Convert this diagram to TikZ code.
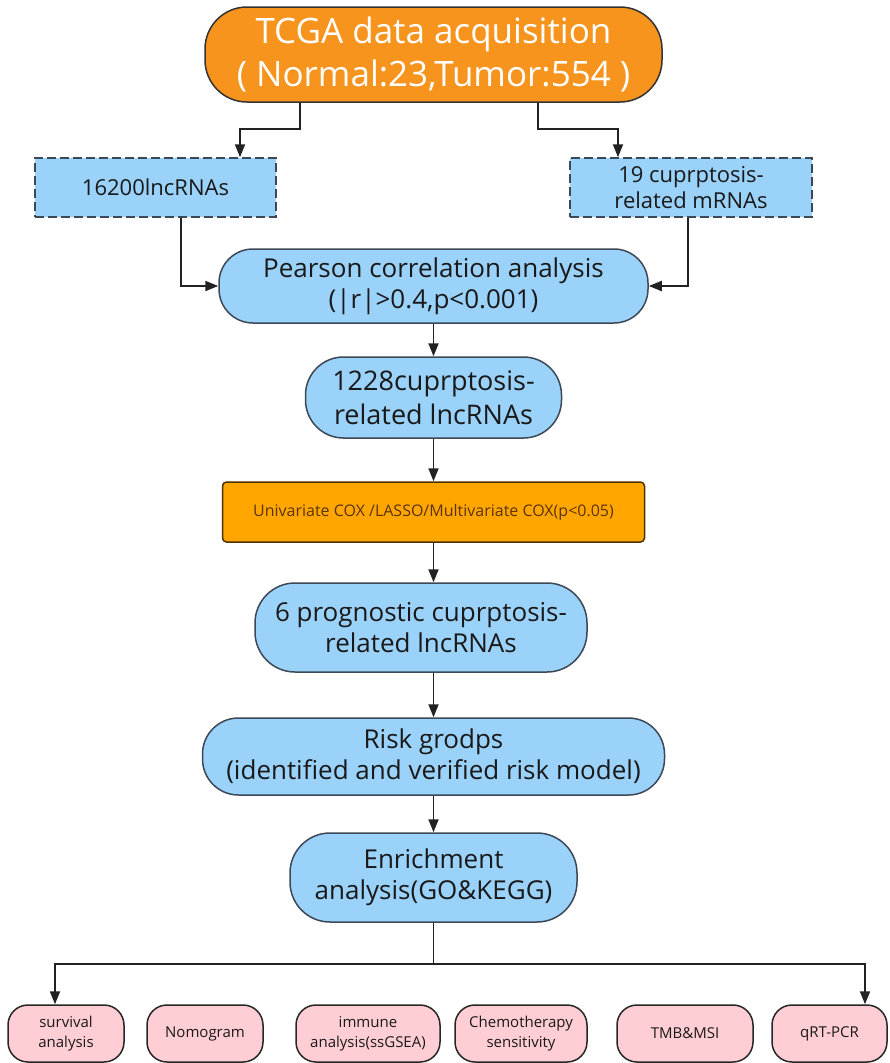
\documentclass[tikz,border=0pt]{standalone}
\usepackage{fontspec}
\setmainfont{Open Sans}
\usetikzlibrary{arrows.meta}
\definecolor{tcgaorange}{RGB}{247,148,30}
\definecolor{coxorange}{RGB}{255,166,0}
\definecolor{coxtext}{RGB}{92,52,12}
\definecolor{stepblue}{RGB}{155,210,250}
\definecolor{outpink}{RGB}{255,205,212}
\definecolor{edgegray}{RGB}{60,72,86}
\definecolor{linkgray}{RGB}{34,34,34}
\begin{document}
\begin{tikzpicture}[x=1pt,y=-1pt,
  every node/.style={align=center,inner sep=0pt},
  bluebox/.style={draw=edgegray,fill=stepblue,line width=1.5pt,text=black!90,font=\fontsize{26}{31}\selectfont},
  dashbox/.style={bluebox,dash pattern=on 9pt off 4pt,minimum height=59pt,font=\fontsize{22}{26}\selectfont},
  pinkbox/.style={draw=black!85,fill=outpink,line width=1.5pt,rounded corners=20pt,minimum height=57pt,text=black!90,font=\fontsize{15}{20}\selectfont},
  flow/.style={draw=linkgray,line width=1.9pt,-{Triangle[length=13pt,width=10pt]}},
  link/.style={draw=linkgray,line width=1.9pt}]
\useasboundingbox (0,0) rectangle (889,1063);
% top of the flow
\node[draw=black!80,fill=tcgaorange,line width=1.5pt,rounded corners=42pt,minimum width=457pt,minimum height=95pt,text=white,font=\fontsize{35}{43}\selectfont] (tcga) at (433.5,54.5) {TCGA data acquisition\\( Normal:23,Tumor:554 )};
\node[dashbox,minimum width=241pt] (lnc) at (155.5,187.5) {16200lncRNAs};
\node[dashbox,minimum width=242pt] (mrna) at (691,187.5) {19 cuprptosis-\\related mRNAs};
\node[bluebox,rounded corners=34pt,minimum width=429pt,minimum height=74pt] (pearson) at (433.5,286) {Pearson correlation analysis\\(|r|>0.4,p<0.001)};
\node[bluebox,rounded corners=38pt,minimum width=256pt,minimum height=81pt,font=\fontsize{27}{34}\selectfont] (cand) at (433.5,397.5) {1228cuprptosis-\\related lncRNAs};
\node[draw=black!70!coxorange,fill=coxorange,line width=1.5pt,rounded corners=4pt,minimum width=422pt,minimum height=60pt,text=coxtext,font=\fontsize{16}{19}\selectfont] (cox) at (433.5,512) {Univariate COX /LASSO/Multivariate COX(p<0.05)};
\node[bluebox,rounded corners=40pt,minimum width=332pt,minimum height=89pt] (prog) at (421,627.5) {6 prognostic cuprptosis-\\related lncRNAs};
\node[bluebox,rounded corners=36pt,minimum width=462pt,minimum height=77pt] (risk) at (433.5,756.5) {Risk grodps\\(identified and verified risk model)};
\node[bluebox,rounded corners=40pt,minimum width=287pt,minimum height=89pt] (enrich) at (433.5,877.5) {Enrichment\\analysis(GO\&KEGG)};
% outcomes
\node[pinkbox,minimum width=116pt] (surv) at (66,1033.5) {survival\\analysis};
\node[pinkbox,minimum width=116pt] (nomo) at (205,1033.5) {Nomogram};
\node[pinkbox,minimum width=144pt] (immune) at (368,1033.5) {immune\\analysis(ssGSEA)};
\node[pinkbox,minimum width=132pt] (chemo) at (521,1033.5) {Chemotherapy\\sensitivity};
\node[pinkbox,minimum width=136pt] (tmb) at (685,1033.5) {TMB\&MSI};
\node[pinkbox,minimum width=115pt] (qrt) at (829.5,1033.5) {qRT-PCR};
% connectors
\draw[flow] ([xshift=-133.5pt]tcga.south) -- ++(0,26) -| ([xshift=84.5pt]lnc.north);
\draw[flow] ([xshift=104.5pt]tcga.south) -- ++(0,26) -| ([xshift=-73pt]mrna.north);
\draw[flow] ([xshift=25.5pt]lnc.south) |- (pearson.west);
\draw[flow] ([xshift=-3pt]mrna.south) |- (pearson.east);
\draw[flow] (pearson.south) -- (pearson.south |- cand.north);
\draw[flow] (cand.south) -- (cand.south |- cox.north);
\draw[flow] (cox.south) -- (cox.south |- prog.north);
\draw[flow] (risk.north |- prog.south) -- (risk.north);
\draw[flow] (risk.south) -- (risk.south |- enrich.north);
\coordinate (split) at (433.5,964);
\draw[link] (enrich.south) -- (split);
\draw[flow] (split) -| ([xshift=-11pt]surv.north);
\draw[flow] (split) -| ([xshift=35.5pt]qrt.north);
\end{tikzpicture}
\end{document}
